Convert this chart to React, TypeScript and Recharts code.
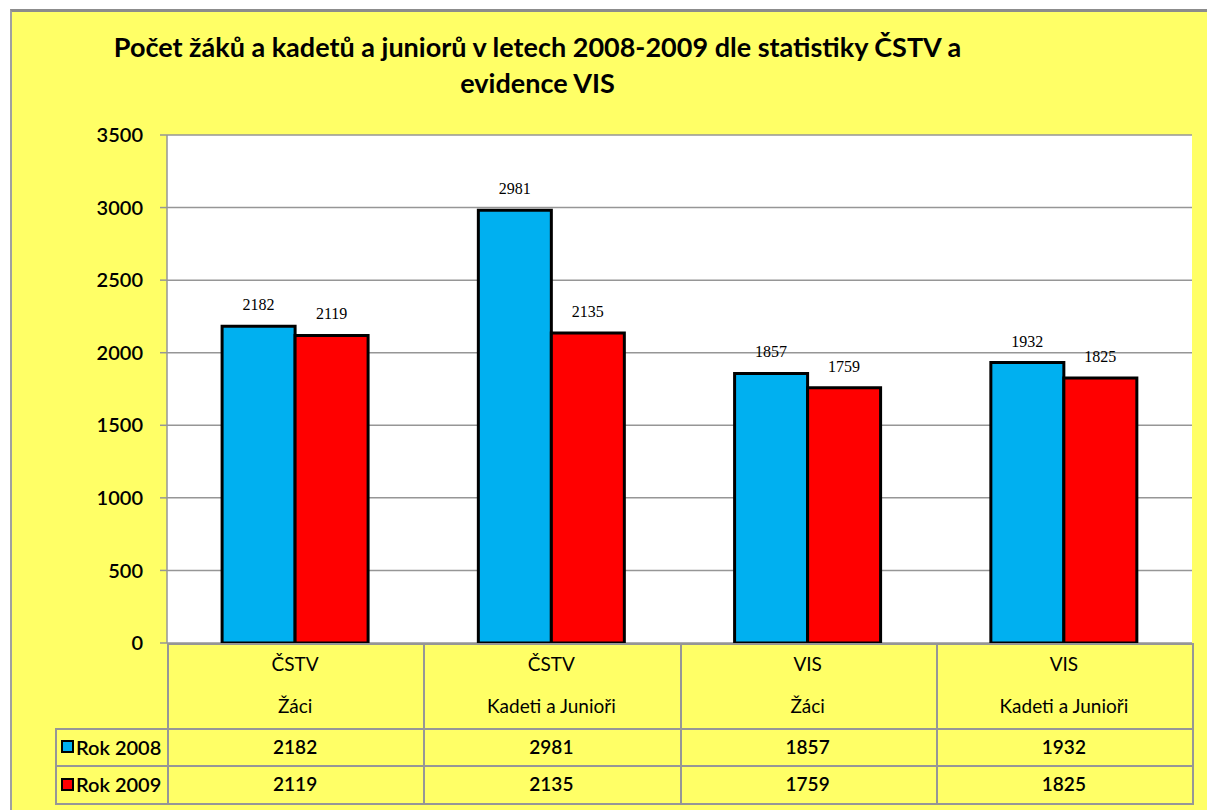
import { BarChart, Bar, XAxis, YAxis, CartesianGrid, LabelList } from "recharts";

const categories = [
  ["ČSTV", "Žáci"],
  ["ČSTV", "Kadeti a Junioři"],
  ["VIS", "Žáci"],
  ["VIS", "Kadeti a Junioři"],
];
const rok2008 = [2182, 2981, 1857, 1932];
const rok2009 = [2119, 2135, 1759, 1825];
const yTicks = [0, 500, 1000, 1500, 2000, 2500, 3000, 3500];
const seriesNames = ["Rok 2008", "Rok 2009"];

const BLUE = "#00B0F0";
const RED = "#FF0000";
const YELLOW = "#FFFF66";
const GRID = "#969696";

const data = categories.map((c, i) => ({
  name: c.join(" "),
  r2008: rok2008[i],
  r2009: rok2009[i],
}));

// plot area in page pixels
const plotLeft = 167;
const plotRight = 1192;
const plotTop = 135;
const plotBottom = 643;
const colW = (plotRight - plotLeft) / categories.length;
const headBottom = 728;
const row1Bottom = 765;
const row2Bottom = 803;
const legendLeft = 55;

const font = "Lato, 'Liberation Sans', sans-serif";

const line = (x: number, y: number, w: number, h: number, key: string) => (
  <div
    key={key}
    style={{ position: "absolute", left: x, top: y, width: w, height: h, background: GRID }}
  />
);

const cellText = (
  x: number,
  y: number,
  w: number,
  text: string,
  key: string,
  bold = false
) => (
  <div
    key={key}
    style={{
      position: "absolute",
      left: x,
      top: y - 12,
      width: w,
      height: 24,
      lineHeight: "24px",
      textAlign: "center",
      fontFamily: font,
      fontSize: bold ? 19 : 19,
      fontWeight: bold ? 600 : 400,
      color: "#000",
    }}
  >
    {text}
  </div>
);

export default function App() {
  const rows = [rok2008, rok2009];
  const rowCenters = [(headBottom + row1Bottom) / 2, (row1Bottom + row2Bottom) / 2];
  const colors = [BLUE, RED];

  return (
    <div
      style={{
        position: "absolute",
        left: 0,
        top: 0,
        width: 1207,
        height: 810,
        overflow: "hidden",
        background: "#fff",
      }}
    >
      <div
        style={{
          position: "absolute",
          left: 10,
          top: 9,
          width: 1220,
          height: 820,
          background: YELLOW,
          borderTop: "3px solid #8c8c8c",
          borderLeft: "2px solid #a0a0a0",
        }}
      />
      <div
        style={{
          position: "absolute",
          left: 0,
          top: 29,
          width: 1075,
          textAlign: "center",
          fontFamily: font,
          fontWeight: 700,
          fontSize: 27,
          lineHeight: "36px",
          color: "#000",
        }}
      >
        Počet žáků a kadetů a juniorů v letech 2008-2009 dle statistiky ČSTV a
        <br />
        evidence VIS
      </div>

      <div style={{ position: "absolute", left: 0, top: 0 }}>
        <BarChart
          width={1207}
          height={810}
          data={data}
          margin={{ top: plotTop, right: 1207 - plotRight, bottom: 810 - plotBottom, left: 87 }}
          barCategoryGap="21.5%"
          barGap={0}
        >
          <CartesianGrid vertical={false} stroke={GRID} strokeWidth={1.5} fill="#fff" />
          <XAxis dataKey="name" hide />
          <YAxis
            width={80}
            domain={[0, 3500]}
            ticks={yTicks}
            interval={0}
            axisLine={{ stroke: GRID, strokeWidth: 1.5 }}
            tickLine={{ stroke: GRID, strokeWidth: 1.5 }}
            tickSize={7}
            tickMargin={17}
            tick={{ fill: "#000", fontFamily: font, fontSize: 20, fontWeight: 600 }}
          />
          <Bar dataKey="r2008" fill={BLUE} stroke="#000" strokeWidth={3} isAnimationActive={false}>
            <LabelList
              dataKey="r2008"
              position="top"
              offset={16}
              fill="#000"
              fontFamily="'Liberation Serif', serif"
              fontSize={16}
            />
          </Bar>
          <Bar dataKey="r2009" fill={RED} stroke="#000" strokeWidth={3} isAnimationActive={false}>
            <LabelList
              dataKey="r2009"
              position="top"
              offset={16}
              fill="#000"
              fontFamily="'Liberation Serif', serif"
              fontSize={16}
            />
          </Bar>
        </BarChart>
      </div>

      {/* data table */}
      {line(plotLeft, plotBottom, plotRight - plotLeft + 2, 2, "top")}
      {line(legendLeft, headBottom, plotRight - legendLeft + 2, 2, "h1")}
      {line(legendLeft, row1Bottom, plotRight - legendLeft + 2, 2, "h2")}
      {line(legendLeft, row2Bottom, plotRight - legendLeft + 2, 2, "h3")}
      {line(legendLeft, headBottom, 2, row2Bottom - headBottom + 2, "vl")}
      {categories.map((_, i) => line(plotLeft + i * colW, plotBottom, 2, row2Bottom - plotBottom, "v" + i))}
      {line(plotRight, plotBottom, 2, row2Bottom - plotBottom + 2, "vr")}

      {categories.map((c, i) => [
        cellText(plotLeft + i * colW, 664, colW, c[0], "c0" + i),
        cellText(plotLeft + i * colW, 706, colW, c[1], "c1" + i),
      ])}

      {rows.map((vals, r) =>
        vals.map((v, i) => cellText(plotLeft + i * colW, rowCenters[r], colW, String(v), "v" + r + i, true))
      )}

      {seriesNames.map((s, r) => (
        <div
          key={s}
          style={{
            position: "absolute",
            left: 61,
            top: rowCenters[r] - 12,
            height: 24,
            display: "flex",
            alignItems: "center",
            fontFamily: font,
            fontSize: 20,
            fontWeight: 600,
          }}
        >
          <span
            style={{
              display: "inline-block",
              width: 9,
              height: 9,
              background: colors[r],
              border: "2.5px solid #000",
              marginRight: 2,
            }}
          />
          {s}
        </div>
      ))}
    </div>
  );
}
